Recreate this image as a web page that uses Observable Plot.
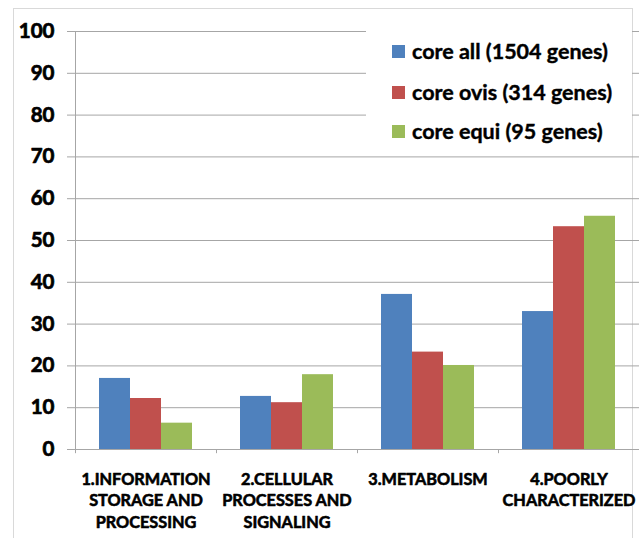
<!DOCTYPE html>
<html>
<head>
<meta charset="utf-8">
<script src="https://cdn.jsdelivr.net/npm/d3@7"></script>
<script src="https://cdn.jsdelivr.net/npm/@observablehq/plot@0.6"></script>
<style>
  body { margin: 0; background: #fff; }
  #wrap { position: relative; width: 639px; height: 538px; overflow: hidden; font-family: Lato, "Open Sans", sans-serif; }
  #frame { position: absolute; left: 13px; top: 8px; width: 620px; height: 540px; border: 1px solid #d9d9d9; border-bottom: none; box-sizing: border-box; }
  #chart { position: absolute; left: 0; top: 0; }
  #legend { position: absolute; left: 366px; top: 30px; width: 266px; height: 122px; background: #fff; }
  .item { position: absolute; left: 26px; height: 24px; display: flex; align-items: center; font-weight: bold; font-size: 21.5px; color: #000; white-space: nowrap; -webkit-text-stroke: 0.4px #000; }
  .sw { width: 13px; height: 13px; margin-right: 7px; }
</style>
</head>
<body>
<div id="wrap">
  <div id="frame"></div>
  <div id="chart"></div>
  <div id="legend"></div>
</div>
<script>
const categories = ["1.INFORMATION\nSTORAGE AND\nPROCESSING", "2.CELLULAR\nPROCESSES AND\nSIGNALING", "3.METABOLISM", "4.POORLY\nCHARACTERIZED"];
const series = ["core all (1504 genes)", "core ovis (314 genes)", "core equi (95 genes)"];
const coreAll = [17.0, 12.7, 37.1, 33.0];
const coreOvis = [12.2, 11.2, 23.3, 53.3];
const coreEqui = [6.3, 17.9, 20.1, 55.8];
const colors = ["#4F81BD", "#C0504D", "#9BBB59"];
const yTicks = [0, 10, 20, 30, 40, 50, 60, 70, 80, 90, 100];

const values = [coreAll, coreOvis, coreEqui];
const rows = [];
series.forEach((s, i) => categories.forEach((c, j) => rows.push({category: c, series: s, value: values[i][j]})));

const grid = "#a6a6a6";
const barMarks = series.map((s, i) =>
  Plot.barY(rows.filter(d => d.series === s), {
    x: "category", y: "value", fill: "series",
    insetLeft: 24 + 31 * i, insetRight: 86 - 31 * i
  })
);

const chart = Plot.plot({
  width: 639,
  height: 538,
  marginLeft: 75,
  marginRight: 0,
  marginTop: 31,
  marginBottom: 89,
  style: {fontFamily: "Lato, 'Open Sans', sans-serif", fontWeight: "bold", background: "transparent"},
  x: {domain: categories, padding: 0, axis: null},
  y: {domain: [0, 100], axis: null},
  color: {domain: series, range: colors},
  marks: [
    Plot.ruleY(yTicks, {stroke: grid}),
    ...barMarks,
    Plot.ruleX([categories[0]], {dx: -70.5, y1: -1, y2: 100, stroke: grid}),
    Plot.ruleX(categories, {dx: 70.5, y1: -1, y2: 0, stroke: grid}),
    Plot.axisY({ticks: yTicks, tickSize: 8, tickPadding: 13, stroke: grid, fill: "#000", fontSize: 20.5, textStroke: "#000", textStrokeWidth: 0.7, label: null}),
    Plot.axisX({tickSize: 0, tickPadding: 20, fill: "#000", fontSize: 16.3, lineHeight: 1.32, textStroke: "#000", textStrokeWidth: 0.6, label: null})
  ]
});
document.getElementById("chart").appendChild(chart);

const legend = document.getElementById("legend");
const rowTops = [9, 50, 89];
series.forEach((s, i) => {
  const div = document.createElement("div");
  div.className = "item";
  div.style.top = rowTops[i] + "px";
  div.innerHTML = `<span class="sw" style="background:${colors[i]}"></span><span>${s}</span>`;
  legend.appendChild(div);
});
</script>
</body>
</html>
